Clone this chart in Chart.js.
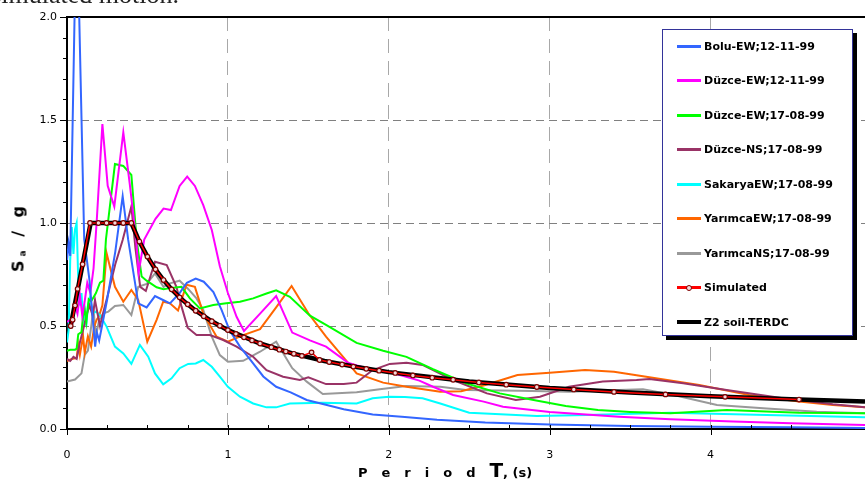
<!DOCTYPE html>
<html>
<head>
<meta charset="utf-8">
<script src="https://cdn.jsdelivr.net/npm/chart.js@4.4.1/dist/chart.umd.min.js"></script>
<style>
  html, body { margin: 0; padding: 0; background: #fff; overflow: hidden; }
  #wrap { position: relative; width: 865px; height: 485px; }
  #caption {
    position: absolute; right: 686px; top: -18px;
    font: 26px/26px "Liberation Serif", serif; color: #222; white-space: nowrap;
  }
  #ytitle {
    position: absolute; left: 18px; top: 237px;
    transform: translate(-50%, -50%) rotate(-90deg);
    font: bold 16px "DejaVu Sans", sans-serif; letter-spacing: 4px; white-space: nowrap;
  }
  #ytitle sub { font-size: 9px; vertical-align: -2px; letter-spacing: 4px; }
  #xtitle {
    position: absolute; left: 358px; top: 470px; transform: translateY(-50%);
    font: bold 13px "DejaVu Sans", sans-serif; white-space: nowrap;
  }
  #xtitle .sp { letter-spacing: 14px; }
  #xtitle .big { font-size: 20px; }
  #legend {
    position: absolute; left: 662px; top: 29px; width: 189px; height: 305px;
    background: #fff; border: 1px solid #333399; box-shadow: 4px 4px 0 #000;
  }
  .row { height: 34.5px; display: flex; align-items: center; margin-left: 14px; }
  .row:first-child { margin-top: -1px; }
  .swatch { position: relative; width: 24px; margin-right: 3px; }
  .swatch .dot {
    position: absolute; left: 9px; top: 50%; width: 4px; height: 4px; margin-top: -3px;
    border: 1px solid #800000; border-radius: 50%; background: #f4d8d8;
  }
  .row span { font: bold 11px "DejaVu Sans", sans-serif; color: #000; }
</style>
</head>
<body>
<div id="wrap">
  <canvas id="chart" width="865" height="485"></canvas>
  <div id="caption">simulated motion.</div>
  <div id="ytitle">S<sub>a</sub> / g</div>
  <div id="xtitle"><span class="sp">Period</span><span class="big">T</span>, (s)</div>
  <div id="legend"></div>
</div>
<script>
// ── Series (period T in s, Sa/g) ──
const boluT  = [0, 0.01, 0.02, 0.06, 0.107, 0.14, 0.175, 0.185, 0.2, 0.25, 0.3, 0.346, 0.38, 0.443, 0.495, 0.547, 0.6, 0.64, 0.7, 0.745, 0.8, 0.85, 0.91, 0.96, 1.01, 1.075, 1.14, 1.22, 1.3, 1.39, 1.49, 1.59, 1.72, 1.9, 2.1, 2.3, 2.6, 3.0, 3.5, 4.0, 4.5, 4.96];
const boluSa = [0.82, 0.9, 0.84, 2.56, 0.92, 0.72, 0.40, 0.47, 0.43, 0.63, 0.86, 1.13, 0.92, 0.61, 0.59, 0.645, 0.625, 0.61, 0.66, 0.71, 0.73, 0.715, 0.665, 0.58, 0.48, 0.40, 0.335, 0.255, 0.205, 0.178, 0.141, 0.121, 0.096, 0.07, 0.058, 0.045, 0.032, 0.022, 0.015, 0.011, 0.008, 0.005];

const duzce1T  = [0, 0.02, 0.035, 0.05, 0.065, 0.08, 0.095, 0.11, 0.126, 0.145, 0.165, 0.184, 0.22, 0.253, 0.294, 0.35, 0.39, 0.43, 0.445, 0.48, 0.55, 0.6, 0.646, 0.7, 0.747, 0.795, 0.847, 0.9, 0.95, 1.0, 1.054, 1.1, 1.2, 1.3, 1.4, 1.51, 1.61, 1.75, 1.86, 1.96, 2.07, 2.19, 2.275, 2.4, 2.59, 2.71, 3.0, 3.43, 3.75, 4.14, 4.5, 4.96];
const duzce1Sa = [0.52, 0.53, 0.52, 0.6, 0.56, 0.65, 0.55, 0.62, 0.71, 0.66, 0.78, 1.0, 1.48, 1.18, 1.08, 1.44, 1.19, 0.92, 0.76, 0.92, 1.02, 1.07, 1.063, 1.18, 1.225, 1.18, 1.087, 0.966, 0.79, 0.66, 0.545, 0.476, 0.56, 0.645, 0.468, 0.43, 0.40, 0.32, 0.295, 0.285, 0.262, 0.235, 0.205, 0.165, 0.133, 0.108, 0.082, 0.06, 0.047, 0.036, 0.028, 0.02];

const duzce2T  = [0, 0.02, 0.05, 0.06, 0.07, 0.09, 0.1, 0.11, 0.12, 0.135, 0.15, 0.165, 0.18, 0.205, 0.226, 0.242, 0.298, 0.35, 0.40, 0.433, 0.464, 0.495, 0.557, 0.6, 0.65, 0.712, 0.764, 0.826, 0.909, 0.99, 1.075, 1.157, 1.24, 1.30, 1.385, 1.51, 1.61, 1.80, 1.965, 2.11, 2.275, 2.48, 2.69, 2.9, 3.1, 3.3, 3.5, 3.75, 4.1, 4.55, 4.96];
const duzce2Sa = [0.38, 0.385, 0.385, 0.39, 0.46, 0.47, 0.55, 0.58, 0.52, 0.63, 0.62, 0.64, 0.66, 0.71, 0.72, 0.92, 1.286, 1.277, 1.233, 0.917, 0.74, 0.72, 0.688, 0.678, 0.685, 0.69, 0.634, 0.585, 0.602, 0.61, 0.618, 0.634, 0.658, 0.673, 0.642, 0.55, 0.505, 0.418, 0.38, 0.35, 0.29, 0.222, 0.173, 0.141, 0.112, 0.092, 0.083, 0.076, 0.092, 0.079, 0.076];

const duzceNST  = [0, 0.02, 0.04, 0.06, 0.08, 0.1, 0.12, 0.14, 0.16, 0.174, 0.19, 0.205, 0.22, 0.25, 0.3, 0.346, 0.40, 0.425, 0.455, 0.49, 0.547, 0.62, 0.68, 0.712, 0.75, 0.805, 0.888, 0.971, 1.054, 1.157, 1.24, 1.343, 1.447, 1.50, 1.61, 1.72, 1.80, 1.90, 2.006, 2.11, 2.21, 2.4, 2.61, 2.79, 2.94, 3.12, 3.33, 3.54, 3.62, 3.83, 4.1, 4.45, 4.76, 4.96];
const duzceNSSa = [0.34, 0.33, 0.35, 0.34, 0.42, 0.48, 0.55, 0.6, 0.55, 0.626, 0.56, 0.5, 0.55, 0.64, 0.8, 0.917, 1.08, 0.88, 0.69, 0.67, 0.812, 0.796, 0.69, 0.594, 0.492, 0.456, 0.456, 0.432, 0.40, 0.351, 0.286, 0.254, 0.238, 0.251, 0.218, 0.218, 0.225, 0.286, 0.316, 0.322, 0.311, 0.238, 0.173, 0.141, 0.157, 0.205, 0.23, 0.238, 0.243, 0.222, 0.189, 0.149, 0.12, 0.105];

const sakaryaT  = [0, 0.01, 0.02, 0.03, 0.04, 0.05, 0.06, 0.07, 0.08, 0.09, 0.1, 0.11, 0.12, 0.13, 0.143, 0.16, 0.18, 0.205, 0.246, 0.298, 0.35, 0.40, 0.453, 0.505, 0.547, 0.598, 0.65, 0.70, 0.753, 0.8, 0.847, 0.90, 0.95, 1.0, 1.075, 1.157, 1.24, 1.30, 1.385, 1.59, 1.80, 1.90, 2.0, 2.1, 2.21, 2.32, 2.5, 2.92, 3.23, 3.75, 4.35, 4.96];
const sakaryaSa = [0.42, 0.48, 0.82, 0.98, 0.85, 0.97, 1.0, 0.72, 0.6, 0.66, 0.53, 0.58, 0.5, 0.6, 0.64, 0.56, 0.57, 0.553, 0.497, 0.40, 0.367, 0.316, 0.408, 0.351, 0.27, 0.217, 0.246, 0.295, 0.316, 0.318, 0.335, 0.302, 0.254, 0.205, 0.157, 0.124, 0.105, 0.105, 0.124, 0.128, 0.124, 0.149, 0.157, 0.155, 0.149, 0.124, 0.079, 0.063, 0.068, 0.079, 0.068, 0.057];

const yarimEWT  = [0, 0.03, 0.06, 0.07, 0.08, 0.1, 0.11, 0.13, 0.15, 0.17, 0.184, 0.2, 0.22, 0.246, 0.298, 0.35, 0.40, 0.443, 0.499, 0.557, 0.598, 0.64, 0.69, 0.743, 0.795, 0.847, 0.93, 1.0, 1.095, 1.2, 1.30, 1.396, 1.50, 1.61, 1.75, 1.80, 1.965, 2.11, 2.32, 2.45, 2.6, 2.8, 3.0, 3.22, 3.4, 3.62, 3.93, 4.24, 4.55, 4.76, 4.96];
const yarimEWSa = [0.33, 0.34, 0.345, 0.41, 0.36, 0.45, 0.37, 0.45, 0.40, 0.5, 0.53, 0.55, 0.6, 0.853, 0.69, 0.618, 0.675, 0.626, 0.424, 0.53, 0.618, 0.61, 0.575, 0.70, 0.69, 0.56, 0.448, 0.424, 0.456, 0.485, 0.59, 0.694, 0.562, 0.448, 0.319, 0.27, 0.225, 0.205, 0.181, 0.183, 0.214, 0.262, 0.273, 0.286, 0.278, 0.251, 0.214, 0.165, 0.133, 0.117, 0.105];

const yarimNST  = [0, 0.05, 0.09, 0.11, 0.13, 0.153, 0.163, 0.18, 0.2, 0.226, 0.257, 0.298, 0.35, 0.40, 0.443, 0.495, 0.547, 0.6, 0.64, 0.70, 0.753, 0.805, 0.847, 0.90, 0.95, 1.0, 1.095, 1.2, 1.30, 1.40, 1.49, 1.59, 1.80, 1.944, 2.11, 2.32, 2.48, 2.81, 3.12, 3.43, 3.58, 3.77, 4.04, 4.35, 4.66, 4.96];
const yarimNSSa = [0.23, 0.24, 0.27, 0.36, 0.38, 0.513, 0.594, 0.45, 0.53, 0.562, 0.57, 0.597, 0.602, 0.553, 0.69, 0.704, 0.755, 0.69, 0.707, 0.72, 0.68, 0.634, 0.578, 0.448, 0.359, 0.327, 0.331, 0.375, 0.424, 0.295, 0.23, 0.17, 0.178, 0.193, 0.209, 0.205, 0.189, 0.186, 0.181, 0.189, 0.193, 0.165, 0.117, 0.10, 0.084, 0.076];

const simT  = [0.023, 0.035, 0.05, 0.066, 0.097, 0.143, 0.195, 0.246, 0.298, 0.35, 0.40, 0.45, 0.50, 0.55, 0.60, 0.65, 0.70, 0.75, 0.80, 0.85, 0.90, 0.95, 1.0, 1.05, 1.1, 1.15, 1.2, 1.27, 1.32, 1.36, 1.41, 1.46, 1.52, 1.57, 1.63, 1.71, 1.78, 1.86, 1.94, 2.04, 2.15, 2.27, 2.40, 2.56, 2.73, 2.92, 3.15, 3.40, 3.72, 4.09, 4.55];
const simSa = [0.50, 0.53, 0.60, 0.68, 0.80, 1.0, 1.0, 1.0, 1.0, 1.0, 1.0, 0.91, 0.837, 0.775, 0.723, 0.678, 0.639, 0.605, 0.574, 0.547, 0.523, 0.501, 0.48, 0.462, 0.445, 0.43, 0.415, 0.397, 0.385, 0.376, 0.365, 0.355, 0.372, 0.335, 0.325, 0.313, 0.303, 0.292, 0.283, 0.272, 0.26, 0.249, 0.239, 0.226, 0.215, 0.204, 0.192, 0.18, 0.168, 0.156, 0.143];

const codeT  = [0.02, 0.147, 0.4, 0.45, 0.5, 0.55, 0.6, 0.65, 0.7, 0.75, 0.8, 0.9, 1.0, 1.2, 1.4, 1.6, 1.8, 2.0, 2.5, 3.0, 3.5, 4.0, 4.5, 4.96];
const codeSa = [0.49, 1.0, 1.0, 0.91, 0.837, 0.775, 0.723, 0.678, 0.639, 0.605, 0.574, 0.523, 0.48, 0.415, 0.367, 0.330, 0.301, 0.276, 0.231, 0.199, 0.177, 0.159, 0.145, 0.134];

const seriesNames  = ['Bolu-EW;12-11-99', 'Düzce-EW;12-11-99', 'Düzce-EW;17-08-99', 'Düzce-NS;17-08-99',
                      'SakaryaEW;17-08-99', 'YarımcaEW;17-08-99', 'YarımcaNS;17-08-99', 'Simulated', 'Z2 soil-TERDC'];
const seriesColors = ['#3366ff', '#ff00ff', '#00ff00', '#993366', '#00ffff', '#ff6600', '#999999', '#ff0000', '#000000'];
const seriesT  = [boluT, duzce1T, duzce2T, duzceNST, sakaryaT, yarimEWT, yarimNST, simT, codeT];
const seriesSa = [boluSa, duzce1Sa, duzce2Sa, duzceNSSa, sakaryaSa, yarimEWSa, yarimNSSa, simSa, codeSa];

const xTickLabels = ['0', '1', '2', '3', '4'];
const yTickLabels = ['0.0', '0.5', '1.0', '1.5', '2.0'];

const isMult = (v, step) => Math.abs(v / step - Math.round(v / step)) < 1e-6;

// ── Datasets ──
const datasets = seriesNames.map((name, i) => {
    const ds = {
        label: name,
        data: seriesT[i].map((t, k) => ({ x: t, y: seriesSa[i][k] })),
        borderColor: seriesColors[i],
        borderWidth: 2,
        pointRadius: 0,
        tension: 0,
        order: 2 + i,
    };
    if (name === 'Simulated') {
        Object.assign(ds, {
            borderWidth: 1.5, order: 0,
            pointRadius: 2.3, pointBorderWidth: 1.2,
            pointBorderColor: '#800000', pointBackgroundColor: '#f4d8d8',
        });
    }
    if (name === 'Z2 soil-TERDC') Object.assign(ds, { borderWidth: 4.5, order: 1 });
    return ds;
});

// ── Tick marks: minor ticks inside on x, outside on y ──
const tickMarks = {
    id: 'tickMarks',
    afterDraw(chart) {
        const { ctx, scales: { x, y } } = chart;
        ctx.save();
        ctx.strokeStyle = '#000';
        ctx.lineWidth = 1;
        x.ticks.forEach(t => {
            if (!isMult(t.value, 0.25)) return;
            const px = Math.round(x.getPixelForValue(t.value)) + 0.5;
            const major = isMult(t.value, 1);
            ctx.beginPath();
            ctx.moveTo(px, x.top - 4);
            ctx.lineTo(px, x.top + (major ? 6 : 0));
            ctx.stroke();
        });
        y.ticks.forEach(t => {
            const py = Math.round(y.getPixelForValue(t.value)) + 0.5;
            const len = isMult(t.value, 0.5) ? 7 : 4;
            ctx.beginPath();
            ctx.moveTo(y.right - len, py);
            ctx.lineTo(y.right, py);
            ctx.stroke();
        });
        ctx.restore();
    }
};

new Chart(document.getElementById('chart'), {
    type: 'line',
    data: { datasets },
    plugins: [tickMarks],
    options: {
        responsive: false,
        animation: false,
        devicePixelRatio: 1,
        // plot runs flush to the right edge, as in the source figure
        layout: { autoPadding: false, padding: { top: 17, right: 0, bottom: 0, left: 0 } },
        plugins: { legend: { display: false }, tooltip: { enabled: false } },
        scales: {
            x: {
                type: 'linear', min: 0, max: 4.96,
                afterFit: s => { s.height = 56; s.paddingRight = 0; },
                ticks: {
                    stepSize: 0.25, autoSkip: false, maxRotation: 0, padding: 0,
                    color: '#000', font: { family: 'DejaVu Sans', size: 11, lineHeight: 1.6 },
                    callback: v => isMult(v, 1) ? ['', xTickLabels[Math.round(v)]] : '',
                },
                grid: {
                    drawTicks: false, lineWidth: 1,
                    color: c => (isMult(c.tick.value, 1) && c.tick.value > 0) ? '#a8a8a8' : 'rgba(0,0,0,0)',
                },
                border: { color: '#000', width: 2, dash: [14, 8] },
            },
            y: {
                min: 0, max: 2,
                afterFit: s => { s.width = 67; },
                ticks: {
                    stepSize: 0.1, autoSkip: false, padding: 10,
                    color: '#000', font: { family: 'DejaVu Sans', size: 11 },
                    callback: v => isMult(v, 0.5) ? yTickLabels[Math.round(v * 2)] : '',
                },
                grid: {
                    drawTicks: false,
                    lineWidth: c => isMult(c.tick.value, 2) ? 2 : 1,
                    color: c => {
                        const v = c.tick.value;
                        if (v > 1.999) return '#000';
                        return (isMult(v, 0.5) && v > 0) ? '#808080' : 'rgba(0,0,0,0)';
                    },
                },
                border: { color: '#000', width: 2, dash: c => (c.tick && c.tick.value > 1.999) ? [] : [8, 5] },
            }
        }
    }
});

// ── Legend ──
const legend = document.getElementById('legend');
seriesNames.forEach((name, i) => {
    const row = document.createElement('div');
    row.className = 'row';
    const h = name === 'Z2 soil-TERDC' ? 4 : 3;
    row.innerHTML = `
        <div class="swatch" style="height:${h}px;background:${seriesColors[i]}">
            ${name === 'Simulated' ? '<div class="dot"></div>' : ''}
        </div>
        <span>${name}</span>`;
    legend.appendChild(row);
});
</script>
</body>
</html>
